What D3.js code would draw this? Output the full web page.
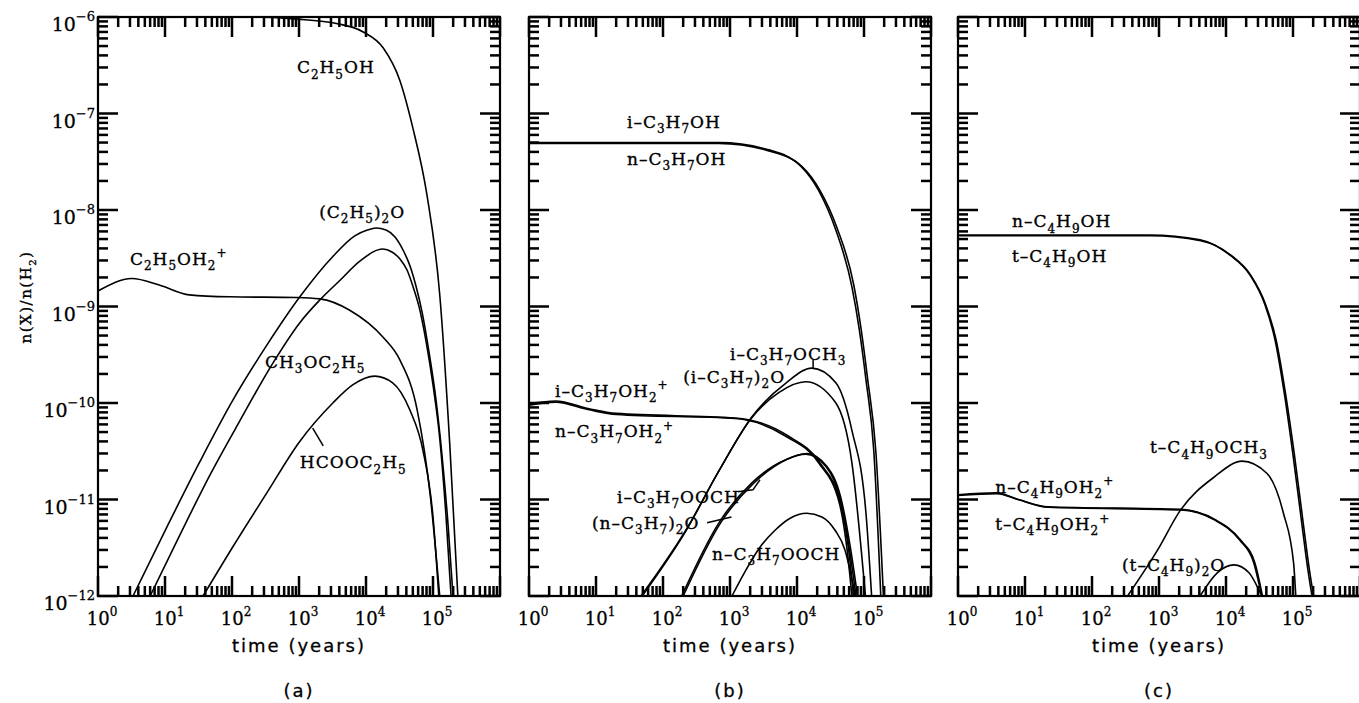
<!DOCTYPE html>
<html><head><meta charset="utf-8">
<script src="https://cdn.jsdelivr.net/npm/d3@7"></script>
<style>
body{margin:0;background:#fff}
svg{display:block}
.lbl{font-family:"DejaVu Serif",serif;font-size:17px;letter-spacing:1px;fill:#000;stroke:#000;stroke-width:0.35px}
.tk{font-family:"DejaVu Serif",serif;fill:#000;stroke:#000;stroke-width:0.3px}
.ttl{font-family:"DejaVu Sans",sans-serif;font-size:18px;letter-spacing:2px;fill:#000;stroke:#000;stroke-width:0.3px}
</style></head><body>
<svg id="chart" width="1359" height="703"></svg>
<script>
// ---------- axis / tick data ----------
const xMajorTicks = [1, 10, 100, 1e3, 1e4, 1e5, 1e6];
const xLabelExponents = [0, 1, 2, 3, 4, 5];
const yMajorTicks = [1e-12, 1e-11, 1e-10, 1e-9, 1e-8, 1e-7, 1e-6];
const yLabelExponents = [-6, -7, -8, -9, -10, -11, -12];
const minorMultipliers = [2, 3, 4, 5, 6, 7, 8, 9];
const panelLetters = ["(a)", "(b)", "(c)"];

// ---------- panel (a) series: [time (yr), n(X)/n(H2)] ----------
const a_C2H5OH = [[1,1.0e-6],[200,1.0e-6],[933,9.5e-7],[3.2e3,8.7e-7],[9.1e3,7.0e-7],[1.8e4,4.8e-7],[3.2e4,2.2e-7],[5.0e4,7.1e-8],[8.1e4,1.45e-8],[1.26e5,1.33e-9],[1.78e5,3.7e-11],[2.35e5,1e-12]];
const a_C2H5OH2p = [[1,1.45e-9],[3.2,1.95e-9],[8.4,1.66e-9],[23,1.32e-9],[93,1.26e-9],[930,1.24e-9],[2.05e3,1.2e-9],[5.8e3,9.1e-10],[1.8e4,4.8e-10],[3.2e4,2.8e-10],[5.8e4,8.5e-11],[9.1e4,1.1e-11],[1.26e5,1e-12]];
const a_C2H5_2O = [[3.33,1e-12],[10.7,5.2e-12],[33,2.45e-11],[103,1.07e-10],[333,4.0e-10],[1.03e3,1.26e-9],[3.2e3,3.3e-9],[6.8e3,5.4e-9],[1.05e4,6.2e-9],[1.41e4,6.5e-9],[1.99e4,6.2e-9],[2.71e4,5.25e-9],[3.57e4,3.85e-9],[4.54e4,2.63e-9],[5.57e4,1.63e-9],[6.86e4,8.8e-10],[8.7e4,3.4e-10],[1.11e5,1.07e-10],[1.36e5,2.9e-11],[1.68e5,5.4e-12],[1.99e5,1e-12]];
const a_CH3OC2H5 = [[6.0,1e-12],[16.7,4.3e-12],[47,1.8e-11],[132,6.6e-11],[395,2.5e-10],[1.03e3,6.8e-10],[2.05e3,1.17e-9],[4.1e3,1.87e-9],[8.1e3,2.95e-9],[1.79e4,3.95e-9],[2.44e4,3.67e-9],[3.22e4,3.1e-9],[4.1e4,2.39e-9],[5.0e4,1.63e-9],[6.2e4,9.9e-10],[7.9e4,4.3e-10],[1.0e5,1.54e-10],[1.27e5,4.1e-11],[1.56e5,6.9e-12],[1.86e5,1e-12]];
const a_HCOOC2H5 = [[37,1e-12],[102,3.2e-12],[331,1.17e-11],[1.0e3,3.9e-11],[3.2e3,1.0e-10],[6.4e3,1.55e-10],[1.35e4,1.9e-10],[2.5e4,1.62e-10],[4.5e4,8.5e-11],[7.1e4,3.2e-11],[1.0e5,6.6e-12],[1.22e5,1e-12]];

// ---------- panel (b) series ----------
const b_iC3H7OH = [[1,5.0e-8],[100,5.0e-8],[690,5.0e-8],[3.8e3,4.2e-8],[1.17e4,2.8e-8],[2.1e4,1.6e-8],[3.8e4,6.2e-9],[6.6e4,1.6e-9],[8.5e4,5.8e-10],[1.07e5,1.74e-10],[1.4e5,3.2e-11],[1.78e5,1e-12]];
const b_nC3H7OH = [[1,4.9e-8],[100,4.9e-8],[690,4.9e-8],[3.8e3,4.1e-8],[1.2e4,2.8e-8],[2.2e4,1.6e-8],[4.0e4,6.4e-9],[7.0e4,1.7e-9],[9.0e4,6.0e-10],[1.13e5,1.8e-10],[1.5e5,3.2e-11],[1.95e5,1e-12]];
const b_iC3H7OH2p = [[1,9.5e-11],[2.5,1.02e-10],[7.9,8.5e-11],[20,7.6e-11],[1.2e3,6.9e-11],[6.9e3,4.5e-11],[2.1e4,2.4e-11],[4.3e4,9.1e-12],[5.6e4,3.0e-12],[6.6e4,1e-12]];
const b_nC3H7OH2p = [[1,9.8e-11],[2.5,1.05e-10],[7.9,8.7e-11],[20,7.8e-11],[1.2e3,7.0e-11],[7.2e3,4.6e-11],[2.2e4,2.4e-11],[4.5e4,9.0e-12],[5.9e4,3.0e-12],[7.0e4,1e-12]];
const b_iC3H7OCH3 = [[47,1e-12],[219,4.8e-12],[690,2.0e-11],[2.1e3,7.1e-11],[6.9e3,1.62e-10],[1.66e4,2.3e-10],[3.8e4,1.62e-10],[6.6e4,5.2e-11],[1.07e5,7.2e-12],[1.3e5,1e-12]];
const b_iC3H7_2O = [[49,1e-12],[219,4.7e-12],[690,2.0e-11],[2.1e3,7.0e-11],[5.4e3,1.29e-10],[1.35e4,1.66e-10],[3.8e4,1.0e-10],[6.6e4,2.4e-11],[1.05e5,1e-12]];
const b_iC3H7OOCH = [[190,1e-12],[690,5.8e-12],[2.1e3,1.48e-11],[6.9e3,2.6e-11],[1.35e4,2.95e-11],[2.7e4,2.2e-11],[4.3e4,1.07e-11],[6.0e4,3.2e-12],[7.6e4,1e-12]];
const b_nC3H7_2O = [[200,1e-12],[720,5.7e-12],[2.2e3,1.45e-11],[7.0e3,2.6e-11],[1.4e4,3.0e-11],[2.8e4,2.2e-11],[4.5e4,1.05e-11],[6.3e4,3.1e-12],[8.0e4,1e-12]];
const b_nC3H7OOCH = [[1.07e3,1e-12],[1.67e3,1.78e-12],[2.8e3,3.2e-12],[4.7e3,4.8e-12],[7.9e3,6.4e-12],[1.4e4,7.2e-12],[2.35e4,6.6e-12],[3.7e4,4.8e-12],[5.2e4,3.0e-12],[6.4e4,1.66e-12],[7.4e4,1e-12]];

// ---------- panel (c) series ----------
const c_nC4H9OH = [[1,5.5e-9],[100,5.5e-9],[735,5.5e-9],[4.1e3,4.9e-9],[1.15e4,3.4e-9],[2.3e4,2.1e-9],[3.8e4,1.05e-9],[5.4e4,4.5e-10],[7.3e4,1.35e-10],[1.0e5,2.9e-11],[1.36e5,5.5e-12],[1.67e5,1.86e-12],[1.92e5,1e-12]];
const c_tC4H9OH = [[1,5.4e-9],[100,5.4e-9],[735,5.4e-9],[4.2e3,4.8e-9],[1.18e4,3.4e-9],[2.35e4,2.1e-9],[3.9e4,1.05e-9],[5.6e4,4.5e-10],[7.6e4,1.35e-10],[1.05e5,2.9e-11],[1.43e5,5.5e-12],[1.76e5,1.86e-12],[2.03e5,1e-12]];
const c_nC4H9OH2p = [[1,1.12e-11],[3.8,1.17e-11],[7.9,1.0e-11],[22,8.3e-12],[2.1e3,7.8e-12],[6.6e3,6.2e-12],[1.6e4,3.8e-12],[2.6e4,2.2e-12],[3.4e4,1e-12]];
const c_tC4H9OH2p = [[1,1.1e-11],[3.8,1.15e-11],[7.9,1.0e-11],[22,8.4e-12],[2.1e3,7.9e-12],[6.8e3,6.2e-12],[1.65e4,3.8e-12],[2.7e4,2.2e-12],[3.5e4,1e-12]];
const c_tC4H9OCH3 = [[340,1e-12],[955,3.0e-12],[2.1e3,7.8e-12],[6.6e3,1.7e-11],[1.74e4,2.5e-11],[4.1e4,1.86e-11],[7.2e4,7.2e-12],[1.02e5,2.2e-12],[1.1e5,1e-12]];
const c_tC4H9_2O = [[4.1e3,1e-12],[7.4e3,1.74e-12],[1.32e4,2.1e-12],[2.2e4,1.74e-12],[3.4e4,1e-12]];

// ---------- labels: text, anchor time, anchor value ----------
const a_labels = [["C_2H_5OH",930,2.6e-7],["(C_2H_5)_2O",2.0e3,8.3e-9],["C_2H_5OH_2^+",3.0,2.7e-9],["CH_3OC_2H_5",310,2.3e-10],["HCOOC_2H_5",1.03e3,2.1e-11]];
const b_labels = [["i–C_3H_7OH",29,7.1e-8],["n–C_3H_7OH",29,2.9e-8],["i–C_3H_7OCH_3",1.0e3,2.8e-10],["(i–C_3H_7)_2O",200,1.6e-10],["i–C_3H_7OH_2^+",2.45,1.15e-10],["n–C_3H_7OH_2^+",2.45,4.4e-11],["i–C_3H_7OOCH",20.6,9.3e-12],["(n–C_3H_7)_2O",8.7,5.0e-12],["n–C_3H_7OOCH",540,2.35e-12]];
const c_labels = [["n–C_4H_9OH",6.4,6.6e-9],["t–C_4H_9OH",6.4,2.9e-9],["t–C_4H_9OCH_3",735,3.0e-11],["n–C_4H_9OH_2^+",3.6,1.17e-11],["t–C_4H_9OH_2^+",3.6,4.8e-12],["(t–C_4H_9)_2O",280,1.8e-12]];
// leader lines
const a_leaders = [[[1.6e3,5.5e-11],[2.3e3,3.6e-11]]];
const b_leaders = [[[1.74e4,2.8e-10],[1.74e4,2.3e-10]],[[1.3e3,1.2e-11],[2.2e3,1.26e-11],[2.8e3,1.6e-11]],[[455,5.75e-12],[1.05e3,6.6e-12]]];
const c_leaders = [];

// ---------- drawing ----------
const svg = d3.select("#chart");
const TOP = 17, BOTTOM = 596;
const MAJ = 20, MIN = 10, TW = 2.5;
const y = d3.scaleLog().domain([1e-12, 1e-6]).range([BOTTOM, TOP]);

const panels = [
  {range:[98,500], series:[a_C2H5OH,a_C2H5OH2p,a_C2H5_2O,a_CH3OC2H5,a_HCOOC2H5], labels:a_labels, leaders:a_leaders, yLabels:true},
  {range:[529,931], series:[b_iC3H7OH,b_nC3H7OH,b_iC3H7OH2p,b_nC3H7OH2p,b_iC3H7OCH3,b_iC3H7_2O,b_iC3H7OOCH,b_nC3H7_2O,b_nC3H7OOCH], labels:b_labels, leaders:b_leaders, yLabels:false},
  {range:[958,1360], series:[c_nC4H9OH,c_tC4H9OH,c_nC4H9OH2p,c_tC4H9OH2p,c_tC4H9OCH3,c_tC4H9_2O], labels:c_labels, leaders:c_leaders, yLabels:false}
];

const xTicks = xMajorTicks.map(v => ({v: v, len: MAJ}));
xMajorTicks.slice(0, -1).forEach(d => minorMultipliers.forEach(m => xTicks.push({v: m * d, len: MIN})));
const yTicks = yMajorTicks.map(v => ({v: v, len: MAJ}));
yMajorTicks.slice(0, -1).forEach(d => minorMultipliers.forEach(m => yTicks.push({v: m * d, len: MIN})));

function rich(sel, str, size) {
  const segs = [];
  let i = 0;
  while (i < str.length) {
    const c = str[i];
    if (c === "_" || c === "^") { segs.push({t:str[i+1], m:c === "_" ? "sub" : "sup"}); i += 2; }
    else {
      if (segs.length && segs[segs.length-1].m === "n") segs[segs.length-1].t += c;
      else segs.push({t:c, m:"n"});
      i++;
    }
  }
  const off = {n:0, sub:0.3*size, sup:-0.45*size};
  let cur = 0;
  segs.forEach(s => {
    const target = off[s.m];
    sel.append("tspan").attr("dy", target - cur)
      .attr("font-size", s.m === "n" ? size : Math.round(size*0.68))
      .text(s.t);
    cur = target;
  });
}

const defs = svg.append("defs");
const scalesX = [];

panels.forEach((p, pi) => {
  const x = d3.scaleLog().domain([1, 1e6]).range(p.range);
  scalesX.push(x);
  const g = svg.append("g");
  const clipId = "clip" + pi;
  defs.append("clipPath").attr("id", clipId).append("rect")
    .attr("x", p.range[0]).attr("y", TOP).attr("width", p.range[1]-p.range[0]).attr("height", BOTTOM-TOP);

  // curves
  const line = d3.line().x(d => x(d[0])).y(d => y(d[1])).curve(d3.curveMonotoneX);
  const cg = g.append("g").attr("clip-path", `url(#${clipId})`);
  p.series.forEach(s => {
    cg.append("path").datum(s).attr("d", line)
      .attr("fill", "none").attr("stroke", "#000").attr("stroke-width", 1.6);
  });
  const lline = d3.line().x(d => x(d[0])).y(d => y(d[1]));
  p.leaders.forEach(l => {
    cg.append("path").datum(l).attr("d", lline)
      .attr("fill", "none").attr("stroke", "#000").attr("stroke-width", 1.5);
  });

  // species labels
  p.labels.forEach(l => {
    const t = g.append("text").attr("class", "lbl").attr("x", x(l[1])).attr("y", y(l[2]));
    rich(t, l[0], 17);
  });

  // x tick labels
  xLabelExponents.forEach(e => {
    const t = g.append("text").attr("class", "tk").attr("text-anchor", "middle")
      .attr("x", x(Math.pow(10, e)) + 4).attr("y", 625);
    t.append("tspan").attr("font-size", 18).text("10");
    t.append("tspan").attr("font-size", 12).attr("dy", -9).text(String(e));
  });

  // axis title & panel letter
  g.append("text").attr("class", "ttl").attr("text-anchor", "middle")
    .attr("x", (p.range[0]+p.range[1])/2).attr("y", 652).text("time (years)");
  g.append("text").attr("class", "ttl").attr("text-anchor", "middle")
    .attr("x", (p.range[0]+p.range[1])/2).attr("y", 697).text(panelLetters[pi]);

  // y tick labels
  if (p.yLabels) {
    yLabelExponents.forEach(e => {
      const t = g.append("text").attr("class", "tk").attr("text-anchor", "end")
        .attr("x", p.range[0] - 3).attr("y", y(Math.pow(10, e)) + 14);
      t.append("tspan").attr("font-size", 19).text("10");
      t.append("tspan").attr("font-size", 13).attr("dy", -10).text("−" + String(-e));
    });
  }
});

// y axis title
const yt = svg.append("text").attr("class", "lbl").attr("text-anchor", "middle")
  .attr("transform", "translate(31,297) rotate(-90)").style("font-size", "15px").style("letter-spacing", "1.5px");
rich(yt, "n(X)/n(H_2)", 15);

// ---------- frames and inward ticks (top-level, drawn last) ----------
const axg = svg.append("g").attr("fill", "#000");
panels.forEach((p, pi) => {
  const x = scalesX[pi];
  axg.append("rect").attr("x", p.range[0]).attr("y", TOP)
    .attr("width", p.range[1]-p.range[0]).attr("height", BOTTOM-TOP)
    .attr("fill", "none").attr("stroke", "#000").attr("stroke-width", 2.2);
  xTicks.forEach(d => {
    const px = x(d.v);
    axg.append("rect").attr("x", px - TW/2).attr("y", BOTTOM - d.len).attr("width", TW).attr("height", d.len);
    axg.append("rect").attr("x", px - TW/2).attr("y", TOP).attr("width", TW).attr("height", d.len);
  });
  yTicks.forEach(d => {
    const py = y(d.v);
    axg.append("rect").attr("x", p.range[0]).attr("y", py - TW/2).attr("width", d.len).attr("height", TW);
    axg.append("rect").attr("x", p.range[1] - d.len).attr("y", py - TW/2).attr("width", d.len).attr("height", TW);
  });
});
</script></body></html>
